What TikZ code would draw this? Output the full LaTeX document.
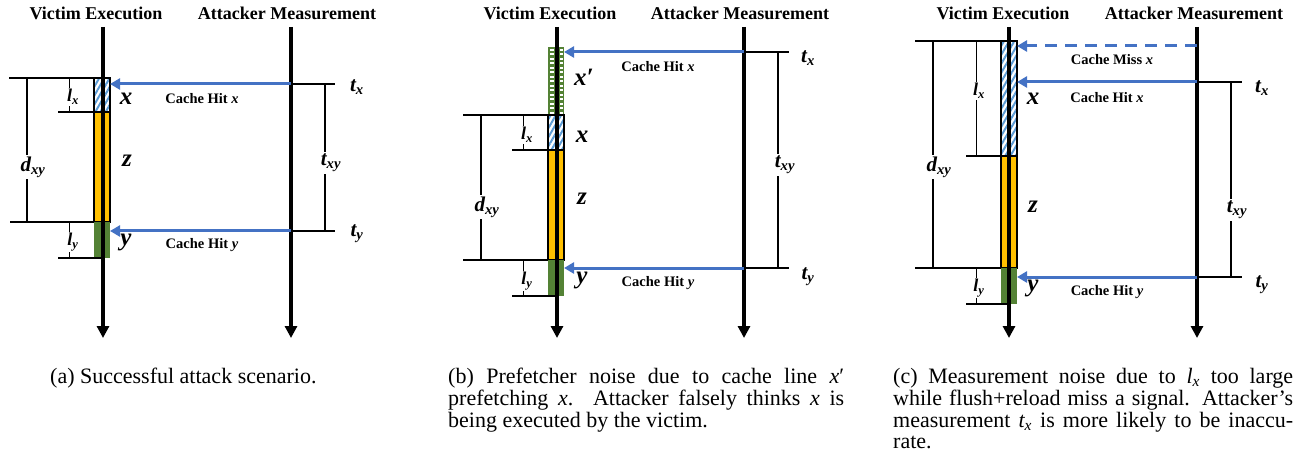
\documentclass[tikz,border=0pt]{standalone}
\usepackage{fontspec}
\setmainfont{Liberation Serif}
\usetikzlibrary{arrows.meta,patterns.meta}
\definecolor{hitblue}{HTML}{4472C4}
\definecolor{hatchblue}{HTML}{5B9BD5}
\definecolor{orng}{HTML}{FFC000}
\definecolor{grn}{HTML}{548235}
\newcommand{\bi}[1]{\textbf{\textit{#1}}}
\newcommand{\bis}[2]{\textbf{\textit{#1\textsubscript{#2}}}}
\tikzset{
  title/.style={font=\fontsize{18}{20}\selectfont\bfseries, inner sep=0},
  cachelab/.style={font=\fontsize{14.5}{16}\selectfont\bfseries, inner sep=0},
  boxlab/.style={font=\fontsize{25}{27}\selectfont, inner sep=0},
  dimlab/.style={font=\fontsize{21}{23}\selectfont, inner sep=1.5, fill=white},
  llab/.style={font=\fontsize{18}{20}\selectfont, inner sep=1.5, fill=white},
  timeline/.style={line width=4, -{Triangle[length=12pt,width=12pt]}},
  hit/.style={draw=hitblue, line width=3, -{Triangle[length=10pt,width=11pt]}},
  miss/.style={hit, dash pattern=on 12pt off 8pt},
  guide/.style={line width=1.5},
  dimline/.style={line width=2},
  lline/.style={line width=1},
  vbox/.style={minimum width=16, anchor=north west, inner sep=0, outer sep=0},
  xbox/.style={vbox, draw, line width=2, pattern={Lines[angle=60,distance=4.5pt,line width=2pt]}, pattern color=hatchblue},
  zbox/.style={vbox, draw, line width=2, fill=orng},
  ybox/.style={vbox, fill=grn},
  pbox/.style={vbox, fill=grn},
  captext/.style={font=\fontsize{22}{21.8}\selectfont, inner sep=0, anchor=north west, align=justify},
}
\begin{document}
\begin{tikzpicture}[x=1pt,y=-1pt]
\useasboundingbox (0,0) rectangle (1304,457);

% ================= panel (a) =================
\node[title] (avt) at (96,13) {Victim Execution};
\node[title] (aat) at (287,13) {Attacker Measurement};
\node[xbox, minimum height=34] (abx) at (94,78) {};
\node[zbox, minimum height=110] (abz) at (94,112) {};
\node[ybox, minimum height=36] (aby) at (94,222) {};
\coordinate (av0) at (103,27); \coordinate (av1) at (103,338);
\coordinate (aa0) at (291,27); \coordinate (aa1) at (291,338);
\draw[timeline] (av0) -- (av1);
\draw[timeline] (aa0) -- (aa1);
\draw[guide] (9,78) -- (abx.north west);
\draw[guide] (58,112) -- (abx.south west);
\draw[guide] (10,222) -- (abz.south west);
\draw[guide] (58,258) -- (103,258);
\draw[dimline] (27,78) -- (27,222);
\node[dimlab] (adxy) at (33,167) {\bis{d}{xy}};
\draw[lline] (69,78) -- (69,112);
\node[llab] (alx) at (73,97) {\bis{l}{x}};
\draw[lline] (69,222) -- (69,258);
\node[llab] (aly) at (73,242) {\bis{l}{y}};
\node[boxlab] (axl) at (126,99) {\bi{x}};
\node[boxlab] (azl) at (127,161) {\bi{z}};
\node[boxlab] (ayl) at (126,242) {\bi{y}};
\coordinate (ahx) at (291,84);
\coordinate (ahy) at (291,231);
\draw[hit] (ahx) -- (ahx -| abx.east);
\draw[hit] (ahy) -- (ahy -| aby.east);
\node[cachelab] (ahxl) at (202,99) {Cache Hit \textit{x}};
\node[cachelab] (ahyl) at (202,245) {Cache Hit \textit{y}};
\draw[guide] (ahx) -- (335,84);
\draw[guide] (ahy) -- (335,231);
\node[dimlab] (atx) at (357,87) {\bis{t}{x}};
\node[dimlab] (aty) at (357,234) {\bis{t}{y}};
\draw[dimline] (325,84) -- (325,231);
\node[dimlab] (atxy) at (331,163) {\bis{t}{xy}};

% ================= panel (b) =================
\node[title] (bvt) at (550,13) {Victim Execution};
\node[title] (bat) at (740,13) {Attacker Measurement};
\node[pbox, minimum height=68] (bbp) at (548,47) {};
\foreach \yy in {49,53.5,...,112} {
  \fill[white] (549.5,\yy) rectangle (553.5,\yy+1.6);
  \fill[white] (559.5,\yy) rectangle (563,\yy+1.6);
}
\node[xbox, minimum height=35] (bbx) at (548,115) {};
\node[zbox, minimum height=110] (bbz) at (548,150) {};
\node[ybox, minimum height=36] (bby) at (548,260) {};
\coordinate (bv0) at (557,27); \coordinate (bv1) at (557,338);
\coordinate (ba0) at (744,27); \coordinate (ba1) at (744,338);
\draw[timeline] (bv0) -- (bv1);
\draw[timeline] (ba0) -- (ba1);
\draw[guide] (463,115) -- (bbx.north west);
\draw[guide] (512,150) -- (bbx.south west);
\draw[guide] (463,260) -- (bbz.south west);
\draw[guide] (512,296) -- (557,296);
\draw[dimline] (481,115) -- (481,260);
\node[dimlab] (bdxy) at (487,207) {\bis{d}{xy}};
\draw[lline] (523,115) -- (523,150);
\node[llab] (blx) at (527,135) {\bis{l}{x}};
\draw[lline] (523,260) -- (523,296);
\node[llab] (bly) at (527,281) {\bis{l}{y}};
\node[boxlab] (bxpl) at (584,77) {\bi{x′}};
\node[boxlab] (bxl) at (582,137) {\bi{x}};
\node[boxlab] (bzl) at (582,199) {\bi{z}};
\node[boxlab] (byl) at (582,280) {\bi{y}};
\coordinate (bhx) at (744,52);
\coordinate (bhy) at (744,268);
\draw[hit] (bhx) -- (bhx -| bbp.east);
\draw[hit] (bhy) -- (bhy -| bby.east);
\node[cachelab] (bhxl) at (658,67) {Cache Hit \textit{x}};
\node[cachelab] (bhyl) at (658,283) {Cache Hit \textit{y}};
\draw[guide] (bhx) -- (789,52);
\draw[guide] (bhy) -- (789,268);
\node[dimlab] (btx) at (808,58) {\bis{t}{x}};
\node[dimlab] (bty) at (808,277) {\bis{t}{y}};
\draw[dimline] (778,52) -- (778,268);
\node[dimlab] (btxy) at (785,165) {\bis{t}{xy}};

% ================= panel (c) =================
\node[title] (cvt) at (1003,13) {Victim Execution};
\node[title] (cat) at (1194,13) {Attacker Measurement};
\node[xbox, minimum height=115] (cbx) at (1001,41) {};
\node[zbox, minimum height=112] (cbz) at (1001,156) {};
\node[ybox, minimum height=36] (cby) at (1001,268) {};
\coordinate (cv0) at (1009,27); \coordinate (cv1) at (1009,338);
\coordinate (ca0) at (1197,27); \coordinate (ca1) at (1197,338);
\draw[timeline] (cv0) -- (cv1);
\draw[timeline] (ca0) -- (ca1);
\draw[guide] (915,41) -- (cbx.north west);
\draw[guide] (966,156) -- (cbx.south west);
\draw[guide] (915,268) -- (cbz.south west);
\draw[guide] (966,304) -- (1009,304);
\draw[dimline] (933,41) -- (933,268);
\node[dimlab] (cdxy) at (939,167) {\bis{d}{xy}};
\draw[lline] (976,41) -- (976,156);
\node[llab] (clx) at (979,91) {\bis{l}{x}};
\draw[lline] (976,268) -- (976,304);
\node[llab] (cly) at (979,288) {\bis{l}{y}};
\node[boxlab] (cxl) at (1033,99) {\bi{x}};
\node[boxlab] (czl) at (1033,207) {\bi{z}};
\node[boxlab] (cyl) at (1033,288) {\bi{y}};
\coordinate (cmx) at (1197,46);
\coordinate (chx) at (1197,82);
\coordinate (chy) at (1197,277);
\draw[miss] (cmx) -- (cmx -| cbx.east);
\draw[hit] (chx) -- (chx -| cbx.east);
\draw[hit] (chy) -- (chy -| cby.east);
\node[cachelab] (cmxl) at (1112,60) {Cache Miss \textit{x}};
\node[cachelab] (chxl) at (1107,98) {Cache Hit \textit{x}};
\node[cachelab] (chyl) at (1107,292) {Cache Hit \textit{y}};
\draw[guide] (chx) -- (1242,82);
\draw[guide] (chy) -- (1242,277);
\node[dimlab] (ctx) at (1262,88) {\bis{t}{x}};
\node[dimlab] (cty) at (1262,285) {\bis{t}{y}};
\draw[dimline] (1231,82) -- (1231,277);
\node[dimlab] (ctxy) at (1237,210) {\bis{t}{xy}};

% ================= captions =================
\node[captext] (capa) at (50,368) {(a) Successful attack scenario.};
\node[captext, text width=396pt] (capb) at (448,368) {(b) Prefetcher noise due to cache line \textit{x}′\linebreak prefetching \textit{x}. Attacker falsely thinks \textit{x} is\linebreak being executed by the victim.};
\node[captext, text width=400pt] (capc) at (893,368) {(c) Measurement noise due to \textit{l\textsubscript{x}} too large\linebreak while flush+reload miss a signal. Attacker's\linebreak measurement \textit{t\textsubscript{x}} is more likely to be inaccu-\linebreak rate.};
\end{tikzpicture}
\end{document}
